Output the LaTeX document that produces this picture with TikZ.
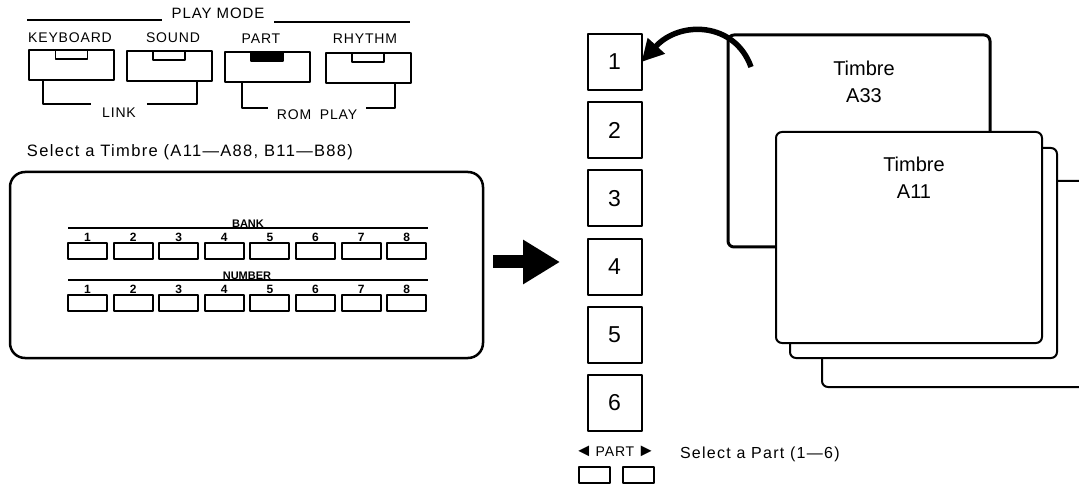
\documentclass[tikz,border=0pt]{standalone}
\usepackage{fontspec}
\setmainfont{Liberation Sans}
\newfontfamily\panelfont[LetterSpace=6]{Liberation Sans}
\newfontfamily\notefont[LetterSpace=8]{Liberation Sans}
\usetikzlibrary{arrows.meta, positioning}

\begin{document}
\begin{tikzpicture}[x=1pt, y=-1pt, line join=round,
  every node/.style={inner sep=0pt, outer sep=0pt},
  panel text/.style={font=\panelfont\fontsize{14}{14}\selectfont},
  note text/.style={font=\notefont\fontsize{16}{16}\selectfont, anchor=west},
  modebtn/.style={draw, line width=2pt, minimum width=85pt, minimum height=30pt},
  lamp/.style={draw, line width=1.5pt, minimum width=32pt, minimum height=9pt, anchor=north},
  bracket/.style={line width=2pt},
  rowline/.style={line width=1.6pt},
  rowlabel/.style={font=\bfseries\fontsize{11}{11}\selectfont, anchor=base},
  rowbtn/.style={draw, line width=2pt, minimum width=39pt, minimum height=16pt},
  rownum/.style={font=\bfseries\fontsize{12}{12}\selectfont, anchor=south},
  partbox/.style={draw, line width=2pt, minimum width=54pt, minimum height=56pt,
                  font=\fontsize{23}{23}\selectfont},
  partbtn/.style={draw, line width=2pt, minimum width=31pt, minimum height=16pt},
  timbre/.style={draw, fill=white, rounded corners=6pt, line width=2pt},
  timbre text/.style={align=center, font=\fontsize{20}{27}\selectfont},
  node distance=12.2pt]
\useasboundingbox (0,0) rectangle (1079,486);
\fill[white] (0,0) rectangle (1079,486);

\node (playmode) [panel text, font=\panelfont\fontsize{15}{15}\selectfont, inner xsep=10pt] at (218,13) {PLAY MODE};
\draw [bracket] (27,20) -- (playmode.west |- 0,20);
\draw [bracket] (playmode.east |- 0,22) -- (410,22);

\node (kbdlabel) [panel text] at (70,38) {KEYBOARD};
\node (soundlabel) [panel text] at (173,38) {SOUND};
\node (partlabel) [panel text] at (261,39) {PART};
\node (rhythmlabel) [panel text] at (365,39) {RHYTHM};

\node (kbd) [modebtn] at (71.5,65) {};
\node (sound) [modebtn] at (169,66) {};
\node (part) [modebtn] at (267,67) {};
\node (rhythm) [modebtn] at (368,68) {};
\node [lamp] at (kbd.north) {};
\node [lamp] at (sound.north) {};
\node [lamp, fill=black] at (part.north) {};
\node [lamp] at (rhythm.north) {};

\node (link) [panel text, inner xsep=11pt] at (119,113) {LINK};
\draw [bracket] (kbd.south -| 43,0) |- (link.west |- 0,104);
\draw [bracket] (link.east |- 0,104) -| (sound.south -| 197,0);
\node (romplay) [panel text, inner xsep=9pt] at (317,115) {ROM\hspace{4pt} PLAY};
\draw [bracket] (part.south -| 242,0) |- (romplay.west |- 0,108);
\draw [bracket] (romplay.east |- 0,108) -| (rhythm.south -| 395,0);

\node (selecttimbre) [note text, font=\notefont\fontsize{16.5}{16.5}\selectfont] at (27,152) {Select a Timbre (A11—A88, B11—B88)};
\node (timbrepanel) [draw, line width=2.5pt, rounded corners=15pt,
  minimum width=473pt, minimum height=186pt] at (246.5,265) {};

\draw [rowline] (68,228) -- (428,228);
\node (banklabel) [rowlabel] at (248,228) {BANK};
\draw [rowline] (68,280) -- (428,280);
\node (numberlabel) [rowlabel] at (247,280) {NUMBER};
\foreach \i in {1,...,8} {
  \node (bank\i) [rowbtn] at ({87.5+45.6*(\i-1)},251) {};
  \node [rownum] at ([yshift=1.5pt]bank\i.north) {\i};
  \node (number\i) [rowbtn] at ({87.5+45.6*(\i-1)},303) {};
  \node [rownum] at ([yshift=1.5pt]number\i.north) {\i};
}

\coordinate (bigtail) at (493,262);
\coordinate (bigtip) at (560,262);
\draw [line width=13pt, -{Triangle[length=37pt,width=42pt]}] (bigtail) -- (bigtip);

\node (p1) [partbox] at (614.5,62) {1};
\node (p2) [partbox, below=of p1] {2};
\node (p3) [partbox, below=of p2] {3};
\node (p4) [partbox, below=of p3] {4};
\node (p5) [partbox, below=of p4] {5};
\node (p6) [partbox, below=of p5] {6};
\node (partsel) [panel text] at (615,451) {{\fontsize{18}{18}\selectfont ◄}\hspace{3pt}PART\hspace{3pt}{\fontsize{18}{18}\selectfont ►}};
\node (partdown) [partbtn] at (594.5,475) {};
\node (partup) [partbtn] at (638.5,475) {};
\node (selectpart) [note text] at (680,454) {Select a Part (1—6)};

\node (back2) [timbre, minimum width=288pt, minimum height=206pt] at (966,284) {};
\node (back1) [timbre, minimum width=267pt, minimum height=210pt] at (923.5,253) {};
\node (a33) [timbre, line width=3pt, minimum width=262pt, minimum height=212pt] at (859,141) {};
\node (a33text) [timbre text, below=26pt of a33.north, xshift=5pt] {Timbre\\A33};
\node (a11) [timbre, minimum width=266pt, minimum height=211pt] at (909,237.5) {};
\node (a11text) [timbre text, below=25pt of a11.north, xshift=5pt] {Timbre\\A11};

\coordinate (swing) at (751,67);
\draw [line width=5.5pt, -{Triangle[length=22pt,width=22pt]}] (swing) .. controls (735,22) and (680,20) .. (p1.east);
\end{tikzpicture}
\end{document}
